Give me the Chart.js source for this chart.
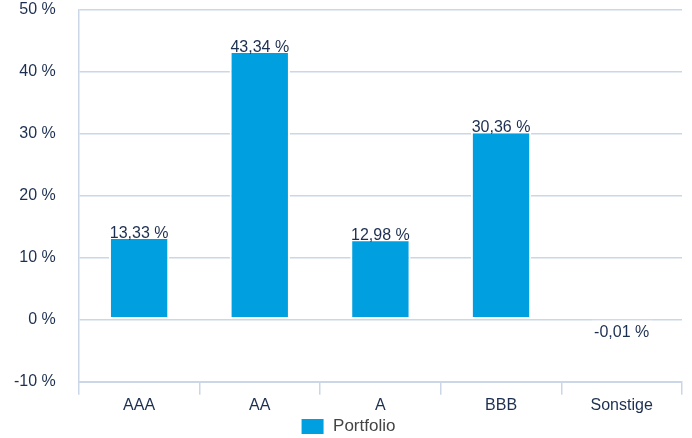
<!DOCTYPE html>
<html>
<head>
<meta charset="utf-8">
<script src="https://cdn.jsdelivr.net/npm/chart.js@4.4.0/dist/chart.umd.min.js"></script>
<style>
  html, body { margin: 0; padding: 0; background: #fff; }
  #wrap { width: 692px; height: 438px; }
</style>
</head>
<body>
<div id="wrap"><canvas id="chart"></canvas></div>
<script>
const categories = ['AAA', 'AA', 'A', 'BBB', 'Sonstige'];
const portfolio = [13.33, 43.34, 12.98, 30.36, -0.01];
const yTicks = [-10, 0, 10, 20, 30, 40, 50];

const textColor = '#1d2f50';
const gridColor = '#cbd7e8';
const barColor = '#009fe0';
const fontFamily = '"Liberation Sans", Arial, sans-serif';

const fmt = v => v.toFixed(2).replace('.', ',') + ' %';

// draws the value above each bar (below the zero line for negatives)
const valueLabels = {
  id: 'valueLabels',
  afterDatasetsDraw(chart) {
    const ctx = chart.ctx;
    const meta = chart.getDatasetMeta(0);
    const zeroY = chart.scales.y.getPixelForValue(0);
    ctx.save();
    ctx.font = '16px ' + fontFamily;
    ctx.fillStyle = textColor;
    ctx.textAlign = 'center';
    meta.data.forEach((bar, i) => {
      const v = portfolio[i];
      if (v >= 0) {
        ctx.textBaseline = 'alphabetic';
        ctx.fillText(fmt(v), bar.x, bar.y + 1);
      } else {
        ctx.textBaseline = 'top';
        ctx.fillText(fmt(v), bar.x, zeroY + 5);
      }
    });
    ctx.restore();
  }
};

new Chart(document.getElementById('chart'), {
  type: 'bar',
  data: {
    labels: categories,
    datasets: [{
      label: 'Portfolio',
      data: portfolio,
      backgroundColor: barColor,
      borderColor: '#ffffff',
      borderWidth: 2,
      borderSkipped: false,
      barPercentage: 0.5,
      categoryPercentage: 1.0,
    }],
  },
  options: {
    responsive: true,
    maintainAspectRatio: false,
    animation: false,
    layout: { padding: { left: 14, right: 10, top: 0, bottom: -7 } },
    plugins: {
      legend: {
        position: 'bottom',
        labels: {
          boxWidth: 24,
          boxHeight: 17,
          padding: 2,
          color: '#444444',
          font: { size: 17, family: fontFamily },
        },
      },
      tooltip: { enabled: false },
    },
    scales: {
      x: {
        grid: { drawOnChartArea: false, tickLength: 13, color: gridColor, lineWidth: 1.5 },
        border: { display: true, color: gridColor, width: 2 },
        ticks: {
          color: textColor,
          padding: 1,
          maxRotation: 0,
          font: { size: 16, family: fontFamily },
        },
      },
      y: {
        min: yTicks[0],
        max: yTicks[yTicks.length - 1],
        afterBuildTicks: axis => { axis.ticks = yTicks.map(v => ({ value: v })); },
        grid: { tickLength: 23, tickColor: 'rgba(0,0,0,0)', color: gridColor, lineWidth: 1.5 },
        border: { display: true, color: gridColor, width: 1.5 },
        ticks: {
          color: textColor,
          padding: 0,
          font: { size: 16, family: fontFamily },
          callback: v => v + ' %',
        },
      },
    },
  },
  plugins: [valueLabels],
});
</script>
</body>
</html>
